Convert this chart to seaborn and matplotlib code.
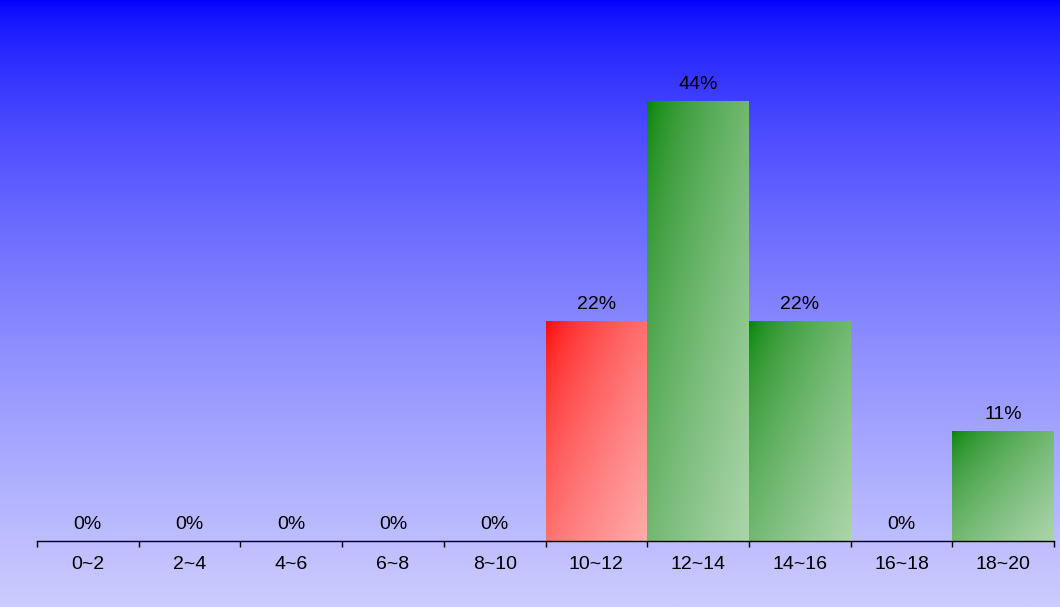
import matplotlib
matplotlib.use("Agg")
import matplotlib.pyplot as plt
import matplotlib.colors as mcolors
import numpy as np
import pandas as pd
import seaborn as sns

categories = ["0~2", "2~4", "4~6", "6~8", "8~10", "10~12", "12~14", "14~16", "16~18", "18~20"]
percents = [0, 0, 0, 0, 0, 22, 44, 22, 0, 11]
bar_colors = ["#008000", "#008000", "#008000", "#008000", "#008000",
              "#ff0000", "#008000", "#008000", "#008000", "#008000"]


def mix(c0, c1, t):
    a = np.array(mcolors.to_rgb(c0))
    b = np.array(mcolors.to_rgb(c1))
    t = np.asarray(t)[..., None]
    return np.clip(a + (b - a) * t, 0, 1)


def lighten(c, alpha=0.33):
    rgb = np.array(mcolors.to_rgb(c))
    return tuple(rgb * alpha + (1 - alpha))


df = pd.DataFrame({"range": categories, "pct": percents})

sns.set_theme(style="white")
plt.rcParams["font.family"] = ["Liberation Sans", "DejaVu Sans"]

W, H = 1060, 607
fig = plt.figure(figsize=(W / 100, H / 100), dpi=100)

# background gradient, blue at top to pale lavender at bottom
bg = fig.add_axes([0, 0, 1, 1], zorder=0)
tv = (np.linspace(0, 1, 400) ** 0.65)[:, None] * np.ones((1, 2))
bg.imshow(mix("#0000ff", "#ccccff", tv), aspect="auto", extent=[0, 1, 0, 1],
          origin="upper")
bg.set_axis_off()

ax = fig.add_axes([37 / W, (H - 541) / H, (1054 - 37) / W, 541 / H], zorder=1)
ax.patch.set_alpha(0)

sns.barplot(data=df, x="range", y="pct", width=1.0, ax=ax, color="#008000",
            saturation=1)

# diagonal gradient fill for each bar (top-left dark -> bottom-right light)
u, v = np.meshgrid(np.linspace(0, 1, 200), np.linspace(0, 1, 200))
tgrid = ((u + v) / 2) ** 0.6
for patch, col in zip(ax.patches, bar_colors):
    x0, y0 = patch.get_x(), patch.get_y()
    w, h = patch.get_width(), patch.get_height()
    if h <= 0:
        patch.set_visible(False)
        continue
    ax.imshow(mix(col, lighten(col), tgrid), extent=[x0, x0 + w, y0, y0 + h],
              origin="upper", aspect="auto", zorder=2)
    patch.set_facecolor("none")
    patch.set_edgecolor("none")

ax.set_xlim(-0.5, len(categories) - 0.5)
ax.set_ylim(0, 54.1)

for i, p in enumerate(percents):
    ax.annotate(f"{p}%", (i, p), xytext=(0, 8.6), textcoords="offset points",
                ha="center", va="baseline", fontsize=14, color="black", zorder=3)

for side in ["top", "right", "left"]:
    ax.spines[side].set_visible(False)
ax.spines["bottom"].set_color("black")
ax.spines["bottom"].set_linewidth(1)
ax.set_yticks([])
ax.set_xlabel("")
ax.set_ylabel("")
ax.set_xticks(range(len(categories)))
ax.set_xticklabels(categories, fontsize=14, color="black")
ax.tick_params(axis="x", which="major", length=0, pad=11)
ax.set_xticks(np.arange(-0.5, len(categories)), minor=True)
ax.tick_params(axis="x", which="minor", length=4.3, width=1, color="black",
               direction="out", bottom=True)

fig.savefig("out.png", dpi=100)
